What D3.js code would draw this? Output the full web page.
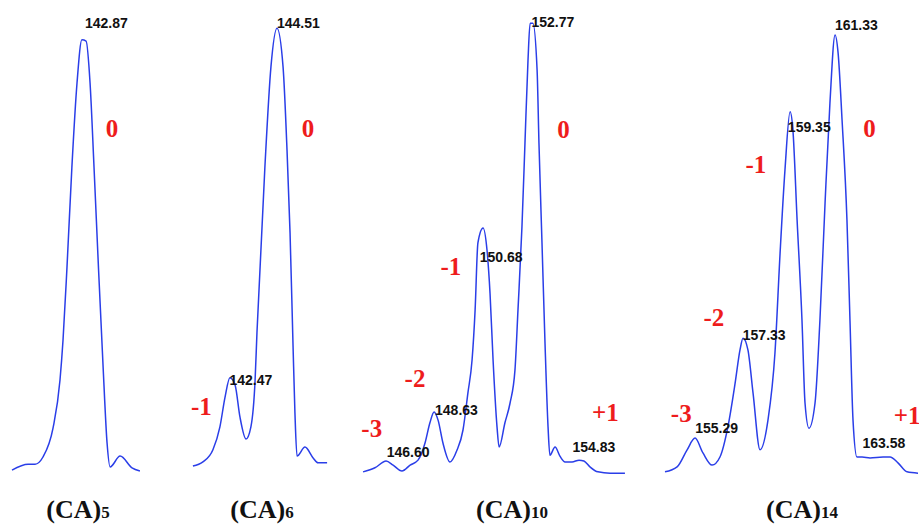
<!DOCTYPE html>
<html>
<head>
<meta charset="utf-8">
<script src="https://cdn.jsdelivr.net/npm/d3@7"></script>
<style>
  html, body { margin: 0; padding: 0; background: #fff; }
  svg { display: block; }
</style>
</head>
<body>
<div id="chart"></div>
<script>
// ---------- DATA (m/z vs relative intensity) ----------
const mz5  = [139.78,140.47,140.77,141.11,141.54,141.84,141.97,142.14,142.35,142.57,142.78,142.96,143.13,143.30,143.49,143.69,143.86,143.99,144.42,144.93,145.27];
const int5 = [1.1,2.4,2.4,4.0,10.4,21.1,30.0,46.2,68.4,87.1,96.7,96.4,87.1,68.4,46.2,24.0,7.1,1.8,4.2,1.6,0.9];

const mz6  = [140.90,141.33,141.76,142.06,142.28,142.49,142.71,142.92,143.18,143.39,143.57,143.65,143.99,144.25,144.51,144.77,144.94,145.07,145.20,145.28,145.37,145.71,146.06,146.27,146.66];
const int6 = [2.0,2.9,5.6,10.7,17.3,21.6,20.0,12.9,8.0,10.7,21.1,31.6,68.4,90.7,99.3,90.7,72.2,53.8,28.4,13.8,4.2,6.2,3.8,2.7,2.7];

const mz10  = [145.54,146.05,146.53,146.83,147.21,147.56,147.90,148.20,148.41,148.59,148.76,148.97,149.27,149.57,149.83,150.04,150.22,150.35,150.47,150.69,150.86,150.99,151.12,151.29,151.38,151.63,151.85,152.06,152.19,152.36,152.49,152.62,152.71,152.83,153.01,153.09,153.22,153.35,153.48,153.56,153.78,153.99,154.21,154.51,154.81,155.02,155.28,155.62,156.14,156.78];
const int10 = [0.7,1.6,3.1,2.2,0.9,2.2,3.3,7.1,11.6,14.0,12.2,7.1,2.9,5.5,10.0,18.2,25.6,36.7,51.6,54.9,50.0,40.4,25.6,10.7,6.2,11.6,16.0,23.3,36.7,55.1,73.8,92.2,100.4,100.4,90.0,73.8,51.6,29.3,10.7,4.4,6.2,4.2,2.9,2.9,3.3,3.1,1.8,0.7,0.4,0.4];

const mz14  = [153.99,154.51,154.94,155.28,155.62,156.01,156.35,156.69,157.00,157.21,157.34,157.55,157.77,158.07,158.41,158.71,158.93,159.14,159.36,159.48,159.66,159.87,160.00,160.17,160.43,160.64,160.86,161.07,161.29,161.42,161.59,161.80,161.93,162.06,162.23,162.45,162.79,163.35,163.65,163.99,164.38,164.85];
const int14 = [0.7,1.8,5.6,8.2,4.9,2.2,4.0,10.7,20.4,27.8,30.4,27.8,18.2,5.6,12.2,27.1,49.3,67.8,80.7,76.7,56.7,34.4,16.0,10.4,16.0,34.4,60.4,82.7,97.8,93.8,78.9,56.7,34.4,12.2,4.0,4.0,3.8,4.0,4.0,2.7,0.7,0.4];

// labelled peaks (m/z, intensity at apex) and charge-state labels
const peakMz5  = [142.87];               const peakInt5  = [96.7];
const peakMz6  = [142.47, 144.51];       const peakInt6  = [21.6, 99.3];
const peakMz10 = [146.60, 148.63, 150.68, 152.77, 154.83];
const peakInt10 = [3.1, 14.0, 54.9, 100.4, 3.3];
const peakMz14 = [155.29, 157.33, 159.35, 161.33, 163.58];
const peakInt14 = [8.2, 30.4, 80.7, 97.8, 4.0];
const charge5  = ["0"];
const charge6  = ["-1", "0"];
const charge10 = ["-3", "-2", "-1", "0", "+1"];
const charge14 = ["-3", "-2", "-1", "0", "+1"];
const titleSub = ["5", "6", "10", "14"];

// ---------- LAYOUT ----------
const W = 919, H = 524;
const pxPerUnit = 23.3;
const panels = [
  { mz: mz5,  it: int5,  pk: peakMz5,  pi: peakInt5,  ch: charge5,  anchorMz: 142.87, anchorX: 84,
    lab: [[1,-12]], chg: [[28,97]], titleX: 78 },
  { mz: mz6,  it: int6,  pk: peakMz6,  pi: peakInt6,  ch: charge6,  anchorMz: 144.51, anchorX: 277,
    lab: [[0,7],[0,0]], chg: [[-28,37],[31,109]], titleX: 262 },
  { mz: mz10, it: int10, pk: peakMz10, pi: peakInt10, ch: charge10, anchorMz: 152.77, anchorX: 531.5,
    lab: [[-1,-4],[0,3],[-3,34],[0,4],[-7,-8]], chg: [[-16,-24],[-20,-25],[-32,47],[32,115],[26,-39]], titleX: 512 },
  { mz: mz14, it: int14, pk: peakMz14, pi: peakInt14, ch: charge14, anchorMz: 161.33, anchorX: 836,
    lab: [[0,-5],[0,2],[-2,20],[-1,-5],[-26,-9]], chg: [[-14,-16],[-29,-12],[-34,61],[33.5,102],[18.6,-33]], titleX: 802 }
];

const svg = d3.select("#chart").append("svg")
  .attr("width", W).attr("height", H)
  .style("background", "#fff");

const y = d3.scaleLinear().domain([0, 100]).range([475, 25]);

panels.forEach((p, i) => {
  const x = d3.scaleLinear()
    .domain([p.anchorMz, p.anchorMz + 1])
    .range([p.anchorX, p.anchorX + pxPerUnit]);

  const pts = p.mz.map((m, j) => [m, p.it[j]]);
  const line = d3.line()
    .x(d => x(d[0])).y(d => y(d[1]))
    .curve(d3.curveMonotoneX);

  svg.append("path")
    .datum(pts)
    .attr("d", line)
    .attr("fill", "none")
    .attr("stroke", "#2a3ee8")
    .attr("stroke-width", 1.5)
    .attr("stroke-linejoin", "round");

  // peak m/z labels
  p.pk.forEach((m, j) => {
    svg.append("text")
      .attr("x", x(m) + p.lab[j][0])
      .attr("y", y(p.pi[j]) + p.lab[j][1])
      .attr("font-family", "'Liberation Sans', Arial, sans-serif")
      .attr("font-weight", "bold")
      .attr("font-size", 14)
      .attr("fill", "#111")
      .text(m.toFixed(2));
  });

  // charge-state labels (anchored to the labelled peaks)
  p.ch.forEach((c, j) => {
    svg.append("text")
      .attr("x", x(p.pk[j]) + p.chg[j][0])
      .attr("y", y(p.pi[j]) + p.chg[j][1])
      .attr("text-anchor", "middle")
      .attr("font-family", "'Liberation Serif', 'Times New Roman', serif")
      .attr("font-weight", "bold")
      .attr("font-size", 25)
      .attr("fill", "#ee1c1c")
      .text(c);
  });

  // panel title (CA)n
  const t = svg.append("text")
    .attr("x", p.titleX)
    .attr("y", 518)
    .attr("text-anchor", "middle")
    .attr("font-family", "'Liberation Serif', 'Times New Roman', serif")
    .attr("font-weight", "bold")
    .attr("fill", "#111");
  t.append("tspan").attr("font-size", 26).text("(CA)");
  t.append("tspan").attr("font-size", 17).text(titleSub[i]);
});
</script>
</body>
</html>
